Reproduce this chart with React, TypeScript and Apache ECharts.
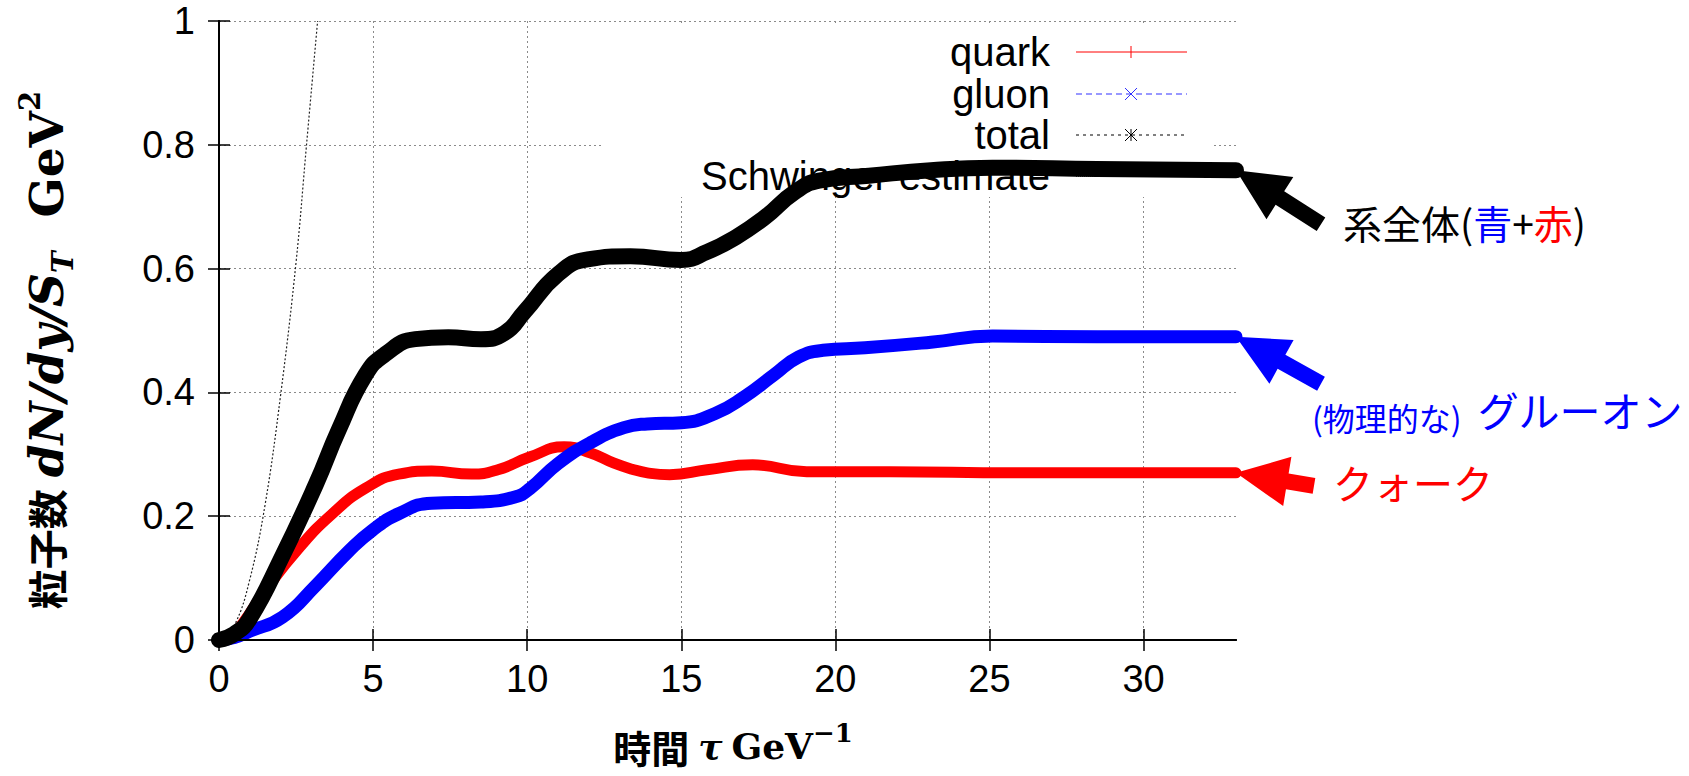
import React, { useEffect, useRef } from "react";
import * as echarts from "echarts";

// τ (GeV^-1) and dN/dy/S_T (GeV^2)
const quarkTau = [0, 0.4, 0.77, 1.53, 2.6, 3.68, 4.75, 5.83, 6.9, 8.19, 9.05, 10.1, 11.2, 12.06, 12.8, 13.4, 13.9, 14.62, 15.84, 17.32, 19.07, 21.77, 25.8, 33];
const quarkN = [0, 0.008, 0.027, 0.082, 0.149, 0.204, 0.245, 0.268, 0.273, 0.268, 0.275, 0.296, 0.312, 0.302, 0.286, 0.276, 0.27, 0.267, 0.275, 0.283, 0.272, 0.272, 0.27, 0.27];

const gluonTau = [0, 0.5, 0.99, 2.06, 3.14, 4.2, 4.97, 5.83, 6.9, 8.5, 9.6, 10.1, 11.0, 12.06, 13.14, 13.9, 15, 16.1, 17.05, 18.0, 18.8, 19.6, 20.96, 23.1, 25.1, 28.5, 33];
const gluonN = [0, 0.004, 0.014, 0.037, 0.088, 0.143, 0.177, 0.204, 0.221, 0.223, 0.231, 0.245, 0.285, 0.319, 0.343, 0.349, 0.351, 0.366, 0.393, 0.428, 0.457, 0.468, 0.472, 0.481, 0.491, 0.49, 0.49];

const totalTau = [0, 0.5, 0.99, 2.06, 3.14, 3.89, 4.75, 5.4, 6.37, 7.44, 8.5, 9.27, 9.91, 11.0, 11.96, 13.35, 15, 15.84, 16.78, 17.72, 18.67, 19.47, 21.09, 23.1, 25.1, 28.5, 33];
const totalN = [0, 0.01, 0.034, 0.136, 0.251, 0.34, 0.428, 0.462, 0.486, 0.489, 0.486, 0.496, 0.53, 0.591, 0.615, 0.62, 0.614, 0.627, 0.651, 0.683, 0.723, 0.742, 0.75, 0.759, 0.763, 0.761, 0.759];

const schwingerTau = [0, 0.5, 1.0, 1.5, 2.0, 2.5, 2.84, 3.2];
const schwingerN = [0, 0.024, 0.098, 0.22, 0.396, 0.61, 0.8, 1.0];

const seriesNames = ["quark", "gluon", "total", "Schwinger estimate"];
const xTicks = [0, 5, 10, 15, 20, 25, 30];
const yTicks = [0, 0.2, 0.4, 0.6, 0.8, 1];
const xMin = 0;
const xMax = 33;
const yMin = 0;
const yMax = 1;

const zip = (xs: number[], ys: number[]) => xs.map((x, i) => [x, ys[i]]);

const SANS = "'Liberation Sans', Arial, sans-serif";
const SERIF = "'DejaVu Serif', serif";
const CJK = "'Noto Sans CJK JP', sans-serif";

export default function App() {
  const ref = useRef<HTMLDivElement>(null);

  useEffect(() => {
    const el = ref.current!;
    const chart = echarts.init(el, null, { renderer: "svg" });

    const axisLine = { show: true, lineStyle: { color: "#000", width: 2 } };
    const tickStyle = { color: "#000", width: 1.5 };
    const gridLine = { show: true, lineStyle: { color: "#8a8a8a", width: 1, type: [2, 3] } };
    const labelStyle = { fontFamily: SANS, fontSize: 38, color: "#000" };

    chart.setOption({
      animation: false,
      backgroundColor: "#fff",
      grid: { left: 219, right: 453, top: 21, bottom: 136, containLabel: false, outerBoundsMode: "none" },
      xAxis: [
        {
          type: "value", min: xMin, max: xMax, interval: 5, position: "bottom",
          axisLine,
          axisTick: { show: true, inside: true, length: 11, lineStyle: tickStyle, customValues: xTicks },
          splitLine: gridLine,
          axisLabel: { ...labelStyle, margin: 20, customValues: xTicks },
          z: 0,
        },
        {
          type: "value", min: xMin, max: xMax, interval: 5, position: "top",
          axisLine,
          axisTick: { show: true, inside: true, length: 11, lineStyle: tickStyle, customValues: xTicks },
          splitLine: { show: false }, axisLabel: { show: false }, z: 6,
        },
      ],
      yAxis: [
        {
          type: "value", min: yMin, max: yMax, interval: 0.2, position: "left",
          axisLine,
          axisTick: { show: true, inside: true, length: 11, lineStyle: tickStyle, customValues: yTicks },
          splitLine: gridLine,
          axisLabel: { ...labelStyle, margin: 24, customValues: yTicks },
          z: 0,
        },
        {
          type: "value", min: yMin, max: yMax, interval: 0.2, position: "right",
          axisLine,
          axisTick: { show: true, inside: true, length: 11, lineStyle: tickStyle, customValues: yTicks },
          splitLine: { show: false }, axisLabel: { show: false }, z: 6,
        },
      ],
      series: [
        {
          name: seriesNames[0], type: "line", data: zip(quarkTau, quarkN), showSymbol: false, symbol: "none",
          smooth: 0.5, z: 3,
          lineStyle: { color: "#ff0000", width: 11, cap: "round", join: "round" },
        },
        {
          name: seriesNames[1], type: "line", data: zip(gluonTau, gluonN), showSymbol: false, symbol: "none",
          smooth: 0.5, z: 4,
          lineStyle: { color: "#0000ff", width: 13, cap: "round", join: "round" },
        },
        {
          name: seriesNames[2], type: "line", data: zip(totalTau, totalN), showSymbol: false, symbol: "none",
          smooth: 0.5, z: 5,
          lineStyle: { color: "#000000", width: 16, cap: "round", join: "round" },
        },
        {
          name: seriesNames[3], type: "line", data: zip(schwingerTau, schwingerN), showSymbol: false, symbol: "none",
          smooth: 0.4, z: 3,
          lineStyle: { color: "#222", width: 1.2, type: [2, 2] },
        },
      ],
    });

    // legend (gnuplot style key: text on the left, sample on the right)
    const keyTextX = 1050;
    const keyX1 = 1076;
    const keyX2 = 1187;
    const keyMid = 1131;
    const keyYs = [52, 94, 135, 176];
    const keyStyles = [
      { stroke: "#ff0000", dash: null as any },
      { stroke: "#3030ff", dash: [6, 4] },
      { stroke: "#000", dash: [3, 4] },
      { stroke: "#000", dash: [1, 1] },
    ];
    const g: any[] = [];
    // opaque key box
    g.push({ type: "rect", shape: { x: 603, y: 23, width: 609, height: 174 }, style: { fill: "#fff" }, z: 1 });
    seriesNames.forEach((name, i) => {
      const y = keyYs[i];
      g.push({
        type: "text", z: 2, x: keyTextX, y,
        style: { text: name, fontFamily: SANS, fontSize: 40, fill: "#000", align: "right", verticalAlign: "middle" },
      });
      g.push({
        type: "line", z: 2, shape: { x1: keyX1, y1: y, x2: keyX2, y2: y },
        style: { stroke: keyStyles[i].stroke, lineWidth: i === 3 ? 1.5 : 1, lineDash: keyStyles[i].dash },
      });
    });
    const m = 6;
    g.push({ type: "line", z: 2, shape: { x1: keyMid, y1: keyYs[0] - m, x2: keyMid, y2: keyYs[0] + m }, style: { stroke: "#ff0000", lineWidth: 1 } });
    g.push({ type: "line", z: 2, shape: { x1: keyMid - m, y1: keyYs[1] - m, x2: keyMid + m, y2: keyYs[1] + m }, style: { stroke: "#3030ff", lineWidth: 1 } });
    g.push({ type: "line", z: 2, shape: { x1: keyMid - m, y1: keyYs[1] + m, x2: keyMid + m, y2: keyYs[1] - m }, style: { stroke: "#3030ff", lineWidth: 1 } });
    g.push({ type: "line", z: 2, shape: { x1: keyMid, y1: keyYs[2] - m, x2: keyMid, y2: keyYs[2] + m }, style: { stroke: "#000", lineWidth: 1 } });
    g.push({ type: "line", z: 2, shape: { x1: keyMid - m, y1: keyYs[2] - m, x2: keyMid + m, y2: keyYs[2] + m }, style: { stroke: "#000", lineWidth: 1 } });
    g.push({ type: "line", z: 2, shape: { x1: keyMid - m, y1: keyYs[2] + m, x2: keyMid + m, y2: keyYs[2] - m }, style: { stroke: "#000", lineWidth: 1 } });

    // arrows pointing at the final values
    const arrowDefs = [
      { s: 0, tau: quarkTau[quarkTau.length - 1], n: quarkN[quarkN.length - 1], color: "#ff0000", dx: 78, dy: 13 },
      { s: 1, tau: gluonTau[gluonTau.length - 1], n: gluonN[gluonN.length - 1], color: "#0000ff", dx: 85, dy: 47 },
      { s: 2, tau: totalTau[totalTau.length - 1], n: totalN[totalN.length - 1], color: "#000000", dx: 85, dy: 54 },
    ];
    const L = 52, W = 25, S = 8;
    arrowDefs.forEach((a) => {
      const p = chart.convertToPixel({ seriesIndex: a.s }, [a.tau, a.n]) as number[];
      const tx = p[0], ty = p[1];
      const px = tx + a.dx, py = ty + a.dy;
      const len = Math.hypot(tx - px, ty - py);
      const ux = (tx - px) / len, uy = (ty - py) / len;
      const nx = -uy, ny = ux;
      const bx = tx - L * ux, by = ty - L * uy;
      g.push({
        type: "polygon", z: 10,
        shape: {
          points: [
            [tx, ty],
            [bx + W * nx, by + W * ny],
            [bx + S * nx, by + S * ny],
            [px + S * nx, py + S * ny],
            [px - S * nx, py - S * ny],
            [bx - S * nx, by - S * ny],
            [bx - W * nx, by - W * ny],
          ],
        },
        style: { fill: a.color },
      });
    });

    // annotations
    g.push({
      type: "text", z: 10, x: 1343, y: 222,
      style: {
        text: "{k|系全体(}{b|青}{k|+}{r|赤}{k|)}",
        align: "left", verticalAlign: "middle",
        rich: {
          k: { fontFamily: CJK, fontSize: 39, fill: "#000" },
          b: { fontFamily: CJK, fontSize: 39, fill: "#0000ff" },
          r: { fontFamily: CJK, fontSize: 39, fill: "#ff0000" },
        },
      },
    });
    g.push({
      type: "text", z: 10, x: 1312, y: 409,
      style: {
        text: "{s|(物理的な)}{sp| }{l|グルーオン}",
        align: "left", verticalAlign: "middle",
        rich: {
          s: { fontFamily: CJK, fontSize: 32, fill: "#0000ff", lineHeight: 48, verticalAlign: "bottom" },
          sp: { width: 16 },
          l: { fontFamily: CJK, fontSize: 41, fill: "#0000ff", lineHeight: 48 },
        },
      },
    });
    g.push({
      type: "text", z: 10, x: 1333, y: 482,
      style: { text: "クォーク", fontFamily: CJK, fontSize: 40, fill: "#ff0000", align: "left", verticalAlign: "middle" },
    });

    // axis titles
    g.push({
      type: "text", z: 10, x: 46, y: 350, rotation: Math.PI / 2,
      style: {
        text: "{c|粒子数}{g1| }{m|dN/dy/S}{sub|T}{g2| }{r|GeV}{sup|2}",
        align: "center", verticalAlign: "middle",
        rich: {
          c: { fontFamily: CJK, fontWeight: "bold", fontSize: 40, lineHeight: 62, fill: "#000" },
          g1: { width: 12, lineHeight: 62 },
          m: { fontFamily: SERIF, fontWeight: "bold", fontStyle: "italic", fontSize: 47, lineHeight: 62, fill: "#000" },
          sub: { fontFamily: SERIF, fontWeight: "bold", fontStyle: "italic", fontSize: 29, lineHeight: 62, verticalAlign: "bottom", fill: "#000" },
          g2: { width: 34, lineHeight: 62 },
          r: { fontFamily: SERIF, fontWeight: "bold", fontSize: 47, lineHeight: 62, fill: "#000" },
          sup: { fontFamily: SERIF, fontWeight: "bold", fontSize: 29, lineHeight: 62, verticalAlign: "top", fill: "#000" },
        },
      },
    });
    g.push({
      type: "text", z: 10, x: 733, y: 746,
      style: {
        text: "{c|時間}{g1| }{m|τ}{g1| }{r|GeV}{sup|−1}",
        align: "center", verticalAlign: "middle",
        rich: {
          c: { fontFamily: CJK, fontWeight: "bold", fontSize: 38, lineHeight: 52, fill: "#000" },
          g1: { width: 9, lineHeight: 52 },
          m: { fontFamily: SERIF, fontWeight: "bold", fontStyle: "italic", fontSize: 36, lineHeight: 52, fill: "#000" },
          r: { fontFamily: SERIF, fontWeight: "bold", fontSize: 36, lineHeight: 52, fill: "#000" },
          sup: { fontFamily: SERIF, fontWeight: "bold", fontSize: 26, lineHeight: 52, verticalAlign: "top", fill: "#000" },
        },
      },
    });

    chart.setOption({ graphic: g });

    return () => chart.dispose();
  }, []);

  return <div ref={ref} style={{ position: "fixed", left: 0, top: 0, width: 1689, height: 776 }} />;
}
